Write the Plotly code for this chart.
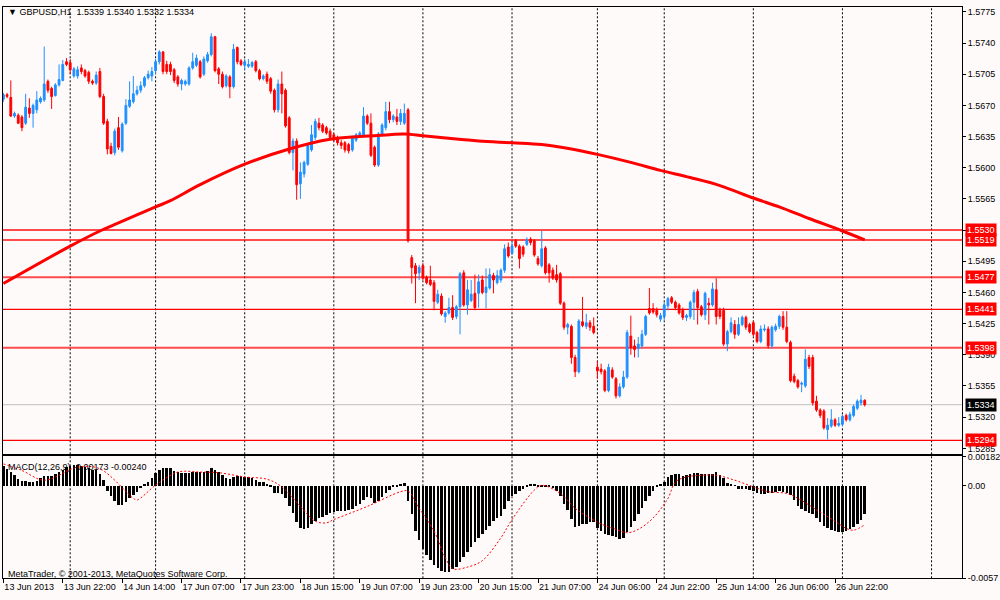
import plotly.graph_objects as go

# GBPUSD H1 candles, one per hour from 13 Jun 2013 06:00 (bar 0) to 27 Jun 06:00
opens = [
    1.5677, 1.5682, 1.5679, 1.5658, 1.5659, 1.5657, 1.5650, 1.5667, 1.5661, 1.5665,
    1.5674, 1.5676, 1.5697, 1.5689, 1.5681, 1.5693, 1.5698, 1.5719, 1.5718, 1.5703,
    1.5703, 1.5712, 1.5709, 1.5707, 1.5697, 1.5695, 1.5708, 1.5680, 1.5652, 1.5624,
    1.5617, 1.5645, 1.5619, 1.5650, 1.5669, 1.5674, 1.5683, 1.5687, 1.5692, 1.5701,
    1.5703, 1.5709, 1.5719, 1.5730, 1.5716, 1.5716, 1.5710, 1.5702, 1.5694, 1.5694,
    1.5694, 1.5712, 1.5715, 1.5719, 1.5705, 1.5720, 1.5727, 1.5747, 1.5711, 1.5705,
    1.5692, 1.5702, 1.5691, 1.5735, 1.5720, 1.5715, 1.5714, 1.5714, 1.5719, 1.5709,
    1.5700, 1.5705, 1.5700, 1.5687, 1.5665, 1.5694, 1.5687, 1.5656, 1.5617, 1.5630,
    1.5582, 1.5593, 1.5604, 1.5620, 1.5634, 1.5650, 1.5648, 1.5645, 1.5641, 1.5637,
    1.5634, 1.5628, 1.5628, 1.5626, 1.5620, 1.5631, 1.5636, 1.5637, 1.5658, 1.5650,
    1.5623, 1.5603, 1.5637, 1.5645, 1.5663, 1.5654, 1.5657, 1.5652, 1.5650, 1.5665,
    1.5499, 1.5490, 1.5482, 1.5490, 1.5477, 1.5474, 1.5471, 1.5449, 1.5456, 1.5433,
    1.5437, 1.5443, 1.5433, 1.5444, 1.5482, 1.5446, 1.5451, 1.5459, 1.5459, 1.5474,
    1.5460, 1.5465, 1.5479, 1.5471, 1.5474, 1.5485, 1.5511, 1.5504, 1.5518, 1.5512,
    1.5511, 1.5514, 1.5520, 1.5518, 1.5498, 1.5490, 1.5510, 1.5491, 1.5485, 1.5480,
    1.5481, 1.5448, 1.5421, 1.5422, 1.5387, 1.5371, 1.5427, 1.5422, 1.5426, 1.5422,
    1.5376, 1.5374, 1.5372, 1.5350, 1.5373, 1.5363, 1.5344, 1.5354, 1.5365, 1.5411,
    1.5400, 1.5397, 1.5400, 1.5413, 1.5442, 1.5442, 1.5440, 1.5430, 1.5433, 1.5445,
    1.5454, 1.5449, 1.5446, 1.5440, 1.5432, 1.5433, 1.5449, 1.5461, 1.5444, 1.5435,
    1.5448, 1.5446, 1.5463, 1.5440, 1.5440, 1.5402, 1.5416, 1.5424, 1.5413, 1.5424,
    1.5432, 1.5424, 1.5426, 1.5415, 1.5405, 1.5418, 1.5419, 1.5400, 1.5418, 1.5422,
    1.5433, 1.5421, 1.5404, 1.5366, 1.5361, 1.5357, 1.5355, 1.5387, 1.5387, 1.5338,
    1.5328, 1.5327, 1.5306, 1.5310, 1.5317, 1.5311, 1.5312, 1.5322, 1.5317, 1.5322,
    1.5330, 1.5336, 1.5339,
]
highs = [
    1.5684, 1.5684, 1.5698, 1.5663, 1.5661, 1.5659, 1.5683, 1.5678, 1.5672, 1.5686,
    1.5680, 1.5736, 1.5699, 1.5691, 1.5695, 1.5716, 1.5721, 1.5723, 1.5722, 1.5713,
    1.5714, 1.5716, 1.5711, 1.5709, 1.5699, 1.5708, 1.5712, 1.5683, 1.5655, 1.5628,
    1.5644, 1.5657, 1.5651, 1.5677, 1.5697, 1.5703, 1.5692, 1.5697, 1.5703, 1.5709,
    1.5713, 1.5722, 1.5732, 1.5731, 1.5720, 1.5719, 1.5712, 1.5704, 1.5700, 1.5699,
    1.5714, 1.5729, 1.5727, 1.5721, 1.5725, 1.5730, 1.5751, 1.5748, 1.5713, 1.5708,
    1.5705, 1.5704, 1.5739, 1.5736, 1.5722, 1.5722, 1.5722, 1.5720, 1.5721, 1.5711,
    1.5705, 1.5708, 1.5702, 1.5689, 1.5699, 1.5708, 1.5689, 1.5658, 1.5633, 1.5633,
    1.5606, 1.5608, 1.5628, 1.5648, 1.5655, 1.5656, 1.5650, 1.5647, 1.5644, 1.5639,
    1.5636, 1.5631, 1.5630, 1.5628, 1.5636, 1.5639, 1.5641, 1.5668, 1.5660, 1.5661,
    1.5625, 1.5640, 1.5650, 1.5674, 1.5674, 1.5660, 1.5666, 1.5666, 1.5672, 1.5667,
    1.5502, 1.5493, 1.5491, 1.5493, 1.5479, 1.5490, 1.5474, 1.5463, 1.5459, 1.5439,
    1.5454, 1.5457, 1.5446, 1.5483, 1.5485, 1.5474, 1.5474, 1.5480, 1.5480, 1.5479,
    1.5487, 1.5487, 1.5482, 1.5485, 1.5487, 1.5514, 1.5516, 1.5517, 1.5520, 1.5514,
    1.5513, 1.5522, 1.5522, 1.5520, 1.5501, 1.5529, 1.5512, 1.5493, 1.5488, 1.5491,
    1.5483, 1.5450, 1.5426, 1.5424, 1.5390, 1.5430, 1.5455, 1.5436, 1.5429, 1.5432,
    1.5383, 1.5380, 1.5374, 1.5380, 1.5376, 1.5365, 1.5358, 1.5372, 1.5418, 1.5434,
    1.5407, 1.5410, 1.5418, 1.5435, 1.5465, 1.5448, 1.5443, 1.5437, 1.5449, 1.5455,
    1.5456, 1.5451, 1.5448, 1.5443, 1.5436, 1.5451, 1.5463, 1.5464, 1.5446, 1.5461,
    1.5454, 1.5471, 1.5476, 1.5443, 1.5443, 1.5418, 1.5432, 1.5429, 1.5432, 1.5434,
    1.5434, 1.5426, 1.5428, 1.5417, 1.5423, 1.5424, 1.5422, 1.5423, 1.5425, 1.5435,
    1.5439, 1.5439, 1.5406, 1.5369, 1.5363, 1.5360, 1.5396, 1.5390, 1.5390, 1.5344,
    1.5330, 1.5329, 1.5319, 1.5329, 1.5319, 1.5320, 1.5323, 1.5324, 1.5326, 1.5334,
    1.5340, 1.5345, 1.5340,
]
lows = [
    1.5674, 1.5678, 1.5657, 1.5656, 1.5649, 1.5641, 1.5648, 1.5656, 1.5645, 1.5661,
    1.5672, 1.5674, 1.5684, 1.5666, 1.5680, 1.5691, 1.5697, 1.5714, 1.5705, 1.5701,
    1.5700, 1.5705, 1.5701, 1.5694, 1.5693, 1.5693, 1.5678, 1.5648, 1.5615, 1.5615,
    1.5614, 1.5620, 1.5617, 1.5648, 1.5667, 1.5672, 1.5681, 1.5684, 1.5690, 1.5699,
    1.5697, 1.5705, 1.5716, 1.5705, 1.5705, 1.5704, 1.5695, 1.5691, 1.5687, 1.5692,
    1.5692, 1.5710, 1.5713, 1.5700, 1.5703, 1.5718, 1.5725, 1.5707, 1.5694, 1.5689,
    1.5690, 1.5678, 1.5689, 1.5716, 1.5714, 1.5710, 1.5712, 1.5712, 1.5707, 1.5698,
    1.5698, 1.5694, 1.5683, 1.5662, 1.5662, 1.5661, 1.5645, 1.5615, 1.5597, 1.5564,
    1.5565, 1.5589, 1.5602, 1.5618, 1.5631, 1.5642, 1.5639, 1.5637, 1.5631, 1.5629,
    1.5625, 1.5621, 1.5617, 1.5616, 1.5618, 1.5629, 1.5634, 1.5635, 1.5648, 1.5612,
    1.5601, 1.5601, 1.5635, 1.5642, 1.5650, 1.5651, 1.5648, 1.5648, 1.5648, 1.5516,
    1.5470, 1.5448, 1.5474, 1.5474, 1.5469, 1.5467, 1.5440, 1.5447, 1.5434, 1.5426,
    1.5435, 1.5429, 1.5430, 1.5413, 1.5444, 1.5435, 1.5449, 1.5440, 1.5443, 1.5458,
    1.5442, 1.5463, 1.5459, 1.5469, 1.5471, 1.5482, 1.5499, 1.5502, 1.5510, 1.5487,
    1.5500, 1.5512, 1.5513, 1.5500, 1.5490, 1.5488, 1.5480, 1.5471, 1.5474, 1.5471,
    1.5446, 1.5418, 1.5413, 1.5380, 1.5365, 1.5369, 1.5421, 1.5419, 1.5417, 1.5413,
    1.5363, 1.5368, 1.5348, 1.5348, 1.5363, 1.5341, 1.5342, 1.5352, 1.5363, 1.5390,
    1.5387, 1.5387, 1.5397, 1.5411, 1.5435, 1.5436, 1.5432, 1.5427, 1.5429, 1.5440,
    1.5447, 1.5440, 1.5435, 1.5429, 1.5428, 1.5430, 1.5429, 1.5424, 1.5433, 1.5429,
    1.5424, 1.5444, 1.5424, 1.5430, 1.5400, 1.5394, 1.5414, 1.5408, 1.5411, 1.5422,
    1.5418, 1.5414, 1.5411, 1.5403, 1.5403, 1.5416, 1.5397, 1.5397, 1.5416, 1.5419,
    1.5418, 1.5403, 1.5359, 1.5358, 1.5352, 1.5348, 1.5353, 1.5374, 1.5333, 1.5326,
    1.5319, 1.5306, 1.5295, 1.5308, 1.5309, 1.5309, 1.5310, 1.5315, 1.5315, 1.5320,
    1.5328, 1.5333, 1.5332,
]
closes = [
    1.5682, 1.5680, 1.5658, 1.5661, 1.5650, 1.5645, 1.5668, 1.5661, 1.5670, 1.5676,
    1.5678, 1.5694, 1.5687, 1.5680, 1.5693, 1.5699, 1.5716, 1.5716, 1.5710, 1.5711,
    1.5710, 1.5708, 1.5703, 1.5697, 1.5695, 1.5704, 1.5680, 1.5650, 1.5621, 1.5616,
    1.5641, 1.5623, 1.5649, 1.5670, 1.5676, 1.5683, 1.5687, 1.5692, 1.5701, 1.5705,
    1.5708, 1.5719, 1.5730, 1.5708, 1.5708, 1.5708, 1.5698, 1.5694, 1.5698, 1.5697,
    1.5712, 1.5719, 1.5723, 1.5702, 1.5722, 1.5727, 1.5747, 1.5709, 1.5705, 1.5691,
    1.5703, 1.5691, 1.5733, 1.5719, 1.5716, 1.5719, 1.5716, 1.5718, 1.5709, 1.5700,
    1.5703, 1.5697, 1.5686, 1.5665, 1.5694, 1.5683, 1.5647, 1.5617, 1.5630, 1.5581,
    1.5595, 1.5606, 1.5625, 1.5637, 1.5652, 1.5645, 1.5641, 1.5639, 1.5634, 1.5631,
    1.5628, 1.5625, 1.5620, 1.5619, 1.5634, 1.5637, 1.5639, 1.5658, 1.5650, 1.5614,
    1.5603, 1.5638, 1.5648, 1.5663, 1.5654, 1.5658, 1.5652, 1.5661, 1.5661, 1.5518,
    1.5488, 1.5481, 1.5488, 1.5476, 1.5471, 1.5469, 1.5450, 1.5458, 1.5436, 1.5437,
    1.5443, 1.5432, 1.5444, 1.5481, 1.5446, 1.5463, 1.5458, 1.5443, 1.5472, 1.5460,
    1.5466, 1.5480, 1.5474, 1.5479, 1.5485, 1.5509, 1.5501, 1.5512, 1.5512, 1.5498,
    1.5503, 1.5519, 1.5516, 1.5502, 1.5492, 1.5509, 1.5482, 1.5482, 1.5476, 1.5474,
    1.5448, 1.5421, 1.5424, 1.5387, 1.5371, 1.5428, 1.5423, 1.5426, 1.5421, 1.5415,
    1.5372, 1.5371, 1.5350, 1.5376, 1.5365, 1.5344, 1.5354, 1.5365, 1.5415, 1.5398,
    1.5396, 1.5402, 1.5413, 1.5433, 1.5437, 1.5438, 1.5435, 1.5434, 1.5446, 1.5453,
    1.5449, 1.5443, 1.5437, 1.5432, 1.5434, 1.5449, 1.5460, 1.5443, 1.5435, 1.5459,
    1.5446, 1.5464, 1.5433, 1.5433, 1.5402, 1.5416, 1.5426, 1.5413, 1.5424, 1.5432,
    1.5421, 1.5416, 1.5413, 1.5405, 1.5419, 1.5419, 1.5400, 1.5421, 1.5422, 1.5433,
    1.5421, 1.5405, 1.5361, 1.5360, 1.5354, 1.5358, 1.5385, 1.5377, 1.5336, 1.5328,
    1.5322, 1.5308, 1.5311, 1.5317, 1.5311, 1.5313, 1.5321, 1.5317, 1.5323, 1.5332,
    1.5338, 1.5339, 1.5334,
]
bars = list(range(len(closes)))

# long moving average (thick red curve), read at a few bars
ma_bars = [0, 18, 26, 31, 41, 45, 53, 65, 77, 88, 96, 104, 108, 113, 120,
           128, 137, 145, 153, 160, 169, 177, 185, 193, 202, 209, 217, 226, 232]
ma_vals = [1.5470, 1.5512, 1.5529, 1.5538, 1.5556, 1.5563, 1.5581, 1.5604, 1.5621,
           1.5632, 1.5635, 1.5637, 1.5638, 1.5636, 1.5633, 1.5630, 1.5628, 1.5626,
           1.5621, 1.5615, 1.5606, 1.5597, 1.5589, 1.5580, 1.5566, 1.5556, 1.5543,
           1.5529, 1.5519]

# MACD(12,26,9) histogram, one value per candle
macd = [
    0.00121, 0.00103, 0.00085, 0.00065, 0.00042, 0.00030, 0.00028, 0.00020, 0.00024, 0.00030,
    0.00044, 0.00061, 0.00061, 0.00061, 0.00068, 0.00081, 0.00095, 0.00115, 0.00121, 0.00125,
    0.00125, 0.00121, 0.00115, 0.00105, 0.00095, 0.00095, 0.00068, 0.00035, -0.00036, -0.00067,
    -0.00097, -0.00121, -0.00121, -0.00101, -0.00077, -0.00056, -0.00041, -0.00016, 0.00004, 0.00024,
    0.00044, 0.00075, 0.00095, 0.00105, 0.00109, 0.00105, 0.00089, 0.00081, 0.00075, 0.00075,
    0.00075, 0.00081, 0.00081, 0.00085, 0.00085, 0.00089, 0.00109, 0.00095, 0.00081, 0.00065,
    0.00048, 0.00041, 0.00055, 0.00061, 0.00061, 0.00055, 0.00055, 0.00048, 0.00035, 0.00024,
    0.00020, 0.00008, -0.00006, -0.00047, -0.00047, -0.00053, -0.00077, -0.00127, -0.00168, -0.00228,
    -0.00259, -0.00268, -0.00262, -0.00238, -0.00218, -0.00202, -0.00194, -0.00182, -0.00168, -0.00162,
    -0.00158, -0.00158, -0.00158, -0.00153, -0.00147, -0.00127, -0.00117, -0.00087, -0.00073, -0.00077,
    -0.00107, -0.00097, -0.00073, -0.00047, -0.00026, -0.00012, -0.00006, 0.00004, 0.00014, -0.00093,
    -0.00178, -0.00279, -0.00339, -0.00390, -0.00430, -0.00461, -0.00491, -0.00511, -0.00525, -0.00531,
    -0.00531, -0.00517, -0.00501, -0.00471, -0.00441, -0.00410, -0.00380, -0.00350, -0.00323, -0.00299,
    -0.00275, -0.00248, -0.00218, -0.00198, -0.00188, -0.00147, -0.00097, -0.00067, -0.00053, -0.00032,
    -0.00020, -0.00006, 0.00008, 0.00004, -0.00004, -0.00006, -0.00006, -0.00012, -0.00016, -0.00032,
    -0.00067, -0.00117, -0.00153, -0.00208, -0.00255, -0.00248, -0.00238, -0.00235, -0.00228, -0.00228,
    -0.00259, -0.00279, -0.00299, -0.00303, -0.00309, -0.00319, -0.00329, -0.00323, -0.00289, -0.00255,
    -0.00218, -0.00178, -0.00141, -0.00097, -0.00067, -0.00036, -0.00012, 0.00004, 0.00020, 0.00055,
    0.00065, 0.00068, 0.00068, 0.00061, 0.00065, 0.00068, 0.00075, 0.00075, 0.00073, 0.00068,
    0.00068, 0.00073, 0.00081, 0.00065, 0.00044, 0.00014, 0.00004, -0.00001, -0.00020, -0.00020,
    -0.00020, -0.00026, -0.00032, -0.00047, -0.00053, -0.00053, -0.00047, -0.00047, -0.00041, -0.00036,
    -0.00041, -0.00047, -0.00056, -0.00087, -0.00127, -0.00147, -0.00158, -0.00168, -0.00178, -0.00198,
    -0.00222, -0.00248, -0.00262, -0.00275, -0.00283, -0.00287, -0.00289, -0.00279, -0.00268, -0.00255,
    -0.00235, -0.00214, -0.00173,
]
# signal line (red dotted), read at a few bars
signal_bars = [0, 5, 11, 20, 26, 35, 36, 41, 47, 53, 58, 65, 71, 75, 80, 84, 87, 89,
               98, 107, 109, 112, 116, 119, 121, 125, 129, 134, 137, 143, 145, 150,
               154, 158, 161, 165, 168, 171, 175, 179, 181, 184, 188, 192, 197, 202,
               206, 211, 214, 219, 224, 227, 229, 232]
signal_vals = [0.00135, 0.00095, 0.00035, 0.00115, 0.00105, -0.00077, -0.00087, 0.00004,
               0.00085, 0.00085, 0.00081, 0.00055, 0.00041, -0.00006, -0.00127, -0.00218,
               -0.00228, -0.00208, -0.00127, -0.00036, -0.00032, -0.00138, -0.00279,
               -0.00441, -0.00511, -0.00501, -0.00461, -0.00320, -0.00208, -0.00026,
               0.00004, -0.00047, -0.00138, -0.00198, -0.00235, -0.00268, -0.00289,
               -0.00268, -0.00198, -0.00077, 0.00024, 0.00055, 0.00065, 0.00065, 0.00035,
               -0.00006, -0.00036, -0.00047, -0.00077, -0.00147, -0.00218, -0.00262,
               -0.00273, -0.00240]

levels = [1.5530, 1.5519, 1.5477, 1.5441, 1.5398, 1.5294]
level_widths = [2, 2, 2, 1.2, 2, 1.2]
bid = 1.5334

price_ticks = [1.5775, 1.5740, 1.5705, 1.5670, 1.5635, 1.5600, 1.5565, 1.5530,
               1.5495, 1.5460, 1.5425, 1.5390, 1.5355, 1.5320, 1.5285]
macd_ticks = [0.00182, 0.0, -0.0057]
macd_tick_text = ["0.00182", "0.00", "-0.0057"]

day_starts = [18, 41, 65, 89, 113, 137, 160, 178, 202, 226, 250]
label_bars = [0, 16, 32, 48, 64, 80, 96, 112, 128, 144, 160, 176, 192, 208, 224]
label_text = ["13 Jun 2013", "13 Jun 22:00", "14 Jun 14:00", "17 Jun 07:00",
              "17 Jun 23:00", "18 Jun 15:00", "19 Jun 07:00", "19 Jun 23:00",
              "20 Jun 15:00", "21 Jun 07:00", "24 Jun 06:00", "24 Jun 22:00",
              "25 Jun 14:00", "26 Jun 06:00", "26 Jun 22:00"]

FONT = "Liberation Sans, Arial, sans-serif"
BG = "#fffafa"
X_DOM = [0.003, 0.962]
MAIN_DOM = [0.2383, 0.9967]
MACD_DOM = [0.0283, 0.235]

fig = go.Figure()

fig.add_trace(go.Candlestick(
    x=bars, open=opens, high=highs, low=lows, close=closes,
    increasing=dict(line=dict(color="#1e90ff", width=1), fillcolor="#1e90ff"),
    decreasing=dict(line=dict(color="#ff0000", width=1), fillcolor="#ff0000"),
    whiskerwidth=0, hoverinfo="skip", xaxis="x", yaxis="y",
))
fig.add_trace(go.Scatter(
    x=ma_bars, y=ma_vals, mode="lines", line=dict(color="#ff0000", width=3, shape="spline"),
    hoverinfo="skip", xaxis="x", yaxis="y",
))
fig.add_trace(go.Bar(
    x=bars, y=macd, marker=dict(color="#000000", line=dict(width=0)), width=0.68,
    hoverinfo="skip", xaxis="x2", yaxis="y2",
))
fig.add_trace(go.Scatter(
    x=signal_bars, y=signal_vals, mode="lines",
    line=dict(color="#ff0000", width=1, dash="2px,2px", shape="spline"),
    hoverinfo="skip", xaxis="x2", yaxis="y2",
))

shapes = []
for d in day_starts:
    shapes.append(dict(type="line", xref="x", yref="paper", x0=d, x1=d,
                       y0=MACD_DOM[0], y1=MAIN_DOM[1], layer="below",
                       line=dict(color="#000000", width=1, dash="2px,2px")))
for lv, w in zip(levels, level_widths):
    col = "rgba(255,0,0,0.7)" if w > 1.5 else "#ff0000"
    shapes.append(dict(type="line", xref="x domain", yref="y", x0=0, x1=1, y0=lv, y1=lv,
                       layer="below", line=dict(color=col, width=w)))
shapes.append(dict(type="line", xref="x domain", yref="y", x0=0, x1=1, y0=bid, y1=bid,
                   layer="below", line=dict(color="#c0c0c0", width=1)))

annotations = []
for lv in levels:
    annotations.append(dict(xref="paper", yref="y", x=0.965, y=lv, xanchor="left",
                            yanchor="middle", text=f"{lv:.4f}", showarrow=False,
                            bgcolor="#ff0000", borderpad=1,
                            font=dict(family=FONT, size=9, color="#ffffff")))
annotations.append(dict(xref="paper", yref="y", x=0.965, y=bid, xanchor="left",
                        yanchor="middle", text=f"{bid:.4f}", showarrow=False,
                        bgcolor="#000000", borderpad=1,
                        font=dict(family=FONT, size=9, color="#ffffff")))
annotations.append(dict(xref="paper", yref="paper", x=0.006, y=0.988, xanchor="left",
                        yanchor="middle", showarrow=False,
                        text="▼ GBPUSD,H1  1.5339 1.5340 1.5332 1.5334",
                        font=dict(family=FONT, size=9, color="#000000")))
annotations.append(dict(xref="paper", yref="paper", x=0.006, y=0.217, xanchor="left",
                        yanchor="middle", showarrow=False,
                        text="MACD(12,26,9) -0.00173 -0.00240",
                        font=dict(family=FONT, size=9, color="#000000")))
annotations.append(dict(xref="paper", yref="paper", x=0.006, y=0.036, xanchor="left",
                        yanchor="middle", showarrow=False,
                        text="MetaTrader, © 2001-2013, MetaQuotes Software Corp.",
                        font=dict(family=FONT, size=9, color="#000000")))

fig.update_layout(
    width=1000, height=600,
    margin=dict(l=0, r=0, t=0, b=0),
    paper_bgcolor=BG, plot_bgcolor=BG,
    showlegend=False, bargap=0,
    font=dict(family=FONT, size=9, color="#000000"),
    shapes=shapes, annotations=annotations,
    xaxis=dict(domain=X_DOM, anchor="y", range=[-0.1, 258.2], matches="x2",
               showticklabels=False, ticks="", showgrid=False, zeroline=False,
               showline=True, mirror=True, linecolor="#000000", linewidth=1,
               rangeslider=dict(visible=False)),
    yaxis=dict(domain=MAIN_DOM, anchor="x", side="right", range=[1.52782, 1.57805],
               tickvals=price_ticks, ticktext=[f"{p:.4f}" for p in price_ticks],
               ticks="outside", ticklen=3, tickcolor="#000000", showgrid=False,
               zeroline=False, showline=True, mirror=True, linecolor="#000000",
               linewidth=1, tickfont=dict(family=FONT, size=9)),
    xaxis2=dict(domain=X_DOM, anchor="y2", range=[-0.1, 258.2],
                tickvals=label_bars, ticktext=label_text, ticks="outside", ticklen=4,
                tickcolor="#000000", ticklabelposition="outside right", tickangle=0,
                showgrid=False, zeroline=False, showline=True, mirror=True,
                linecolor="#000000", linewidth=1, tickfont=dict(family=FONT, size=9)),
    yaxis2=dict(domain=MACD_DOM, anchor="x2", side="right", range=[-0.0057, 0.00182],
                tickvals=macd_ticks, ticktext=macd_tick_text, ticks="outside", ticklen=3,
                tickcolor="#000000", showgrid=False, zeroline=False, showline=True,
                mirror=True, linecolor="#000000", linewidth=1,
                tickfont=dict(family=FONT, size=9)),
)

# the page's default body margin would push the 1000x600 figure off the window
fig.write_html("out.html", config={"displayModeBar": False},
               post_script="document.body.style.margin='0';")
